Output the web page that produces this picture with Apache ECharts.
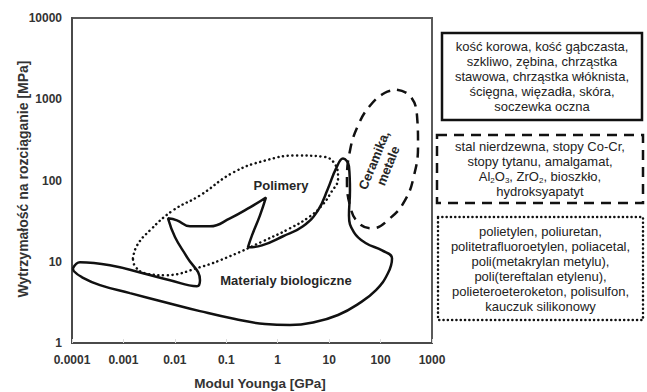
<!DOCTYPE html>
<html>
<head>
<meta charset="utf-8">
<script src="https://cdn.jsdelivr.net/npm/echarts@6/dist/echarts.min.js"></script>
<style>
  html, body { margin: 0; padding: 0; background: #fff; }
  #chart { width: 647px; height: 392px; }
</style>
</head>
<body>
<div id="chart"></div>
<script>
// Young's modulus [GPa] vs tensile strength [MPa] outlines for material groups.
const xTickLabels = ['0.0001', '0.001', '0.01', '0.1', '1', '10', '100', '1000'];
const yTickLabels = ['1', '10', '100', '1000', '10000'];

// Biological materials (solid outline)
const bioOutline = [
  [1.045e-4, 8.32], [1.43e-4, 9.86], [5.48e-4, 9.06], [2.40e-3, 7.22], [8.05e-3, 5.93],
  [0.0269, 5.00], [0.0308, 5.93], [0.0172, 11.4], [0.0101, 20.0], [7.36e-3, 34.2],
  [0.0110, 32.3], [0.0197, 27.3], [0.0482, 27.3], [0.118, 34.2], [0.289, 46.7],
  [0.591, 61.9], [0.452, 37.2], [0.316, 21.1], [0.264, 15.1], [0.494, 15.9],
  [1.27, 20.6], [3.10, 27.3], [6.07, 42.9], [9.50, 79.8], [13.6, 140],
  [18.6, 186], [24.3, 149], [25.4, 75.4], [24.3, 37.2], [30.4, 23.0],
  [52.1, 16.9], [107, 13.8], [167, 11.0], [139, 7.22], [81.5, 4.47],
  [36.4, 3.01], [14.9, 2.21], [5.31, 1.81], [1.73, 1.66], [0.566, 1.71],
  [0.148, 1.97], [0.0308, 2.47], [6.43e-3, 3.18], [1.34e-3, 4.11], [3.50e-4, 5.15],
  [1.56e-4, 6.45], [1.09e-4, 7.64], [1.045e-4, 8.32]
];

// Polymers (dotted outline)
const polymerOutline = [
  [1.53e-3, 11.0], [1.84e-3, 15.9], [3.29e-3, 24.4], [9.20e-3, 42.9], [0.0308, 65.5],
  [0.135, 125], [0.566, 176], [2.37, 203], [7.26, 197], [12.4, 166],
  [14.9, 106], [10.9, 71.2], [7.26, 49.4], [4.25, 36.2], [1.73, 25.8],
  [0.518, 17.9], [0.118, 11.7], [0.0308, 8.57], [6.43e-3, 6.83], [2.62e-3, 7.22],
  [1.68e-3, 8.81], [1.53e-3, 11.0]
];

// Ceramics and metals (dashed outline)
const ceramicOutline = [
  [208, 1309], [373, 1104], [511, 628], [535, 269], [447, 115],
  [298, 56.9], [152, 34.2], [68.1, 25.8], [36.4, 30.5], [25.4, 49.4],
  [22.2, 100], [25.4, 233], [36.4, 473], [62.2, 832], [122, 1202], [208, 1309]
];

const regionLabels = {
  polymers: 'Polimery',
  bio: 'Materialy biologiczne',
  ceramics: 'Ceramika,\nmetale'
};

const axisTitles = {
  x: 'Modul Younga [GPa]',
  y: 'Wytrzymałość na rozciąganie [MPa]'
};

const bioMaterialsText = [
  'kość korowa, kość gąbczasta,',
  'szkliwo, zębina, chrząstka',
  'stawowa, chrząstka włóknista,',
  'ścięgna, więzadła, skóra,',
  'soczewka oczna'
];
const metalsText = [
  'stal nierdzewna, stopy Co-Cr,',
  'stopy tytanu, amalgamat,',
  '{n|Al}{s|2}{n|O}{s|3}{n|, ZrO}{s|2}{n|, bioszkło,}',
  'hydroksyapatyt'
];
const polymersText = [
  'polietylen, poliuretan,',
  'politetrafluoroetylen, poliacetal,',
  'poli(metakrylan metylu),',
  'poli(tereftalan etylenu),',
  'polieteroeteroketon, polisulfon,',
  'kauczuk silikonowy'
];

const FONT = '"Liberation Sans", Arial, Helvetica, sans-serif';
const INK = '#111';
const DEG = Math.PI / 180;

function outlineSeries(data, type) {
  return {
    type: 'line',
    data: data,
    smooth: 0.45,
    showSymbol: false,
    silent: true,
    animation: false,
    lineStyle: Object.assign({ color: INK, width: 2.5 }, type)
  };
}

// zrender rotation: positive angles turn text counter-clockwise
function centeredText(x, y, text, size, color, rotation) {
  return {
    type: 'text', x: x, y: y, rotation: rotation || 0,
    style: {
      text: text, fontFamily: FONT, fontSize: size, fontWeight: 'bold', fill: color,
      lineHeight: 15,
      align: 'center', verticalAlign: 'middle', textAlign: 'center', textVerticalAlign: 'middle'
    }
  };
}

function legendBox(x, y, w, h, lines, border, rich) {
  return {
    type: 'group',
    children: [
      {
        type: 'rect',
        shape: { x: x, y: y, width: w, height: h },
        style: Object.assign({ fill: '#fff', stroke: INK, lineWidth: 2.5 }, border)
      },
      {
        type: 'text',
        x: x + w / 2,
        y: y + h / 2,
        style: {
          text: lines.join('\n'),
          fontFamily: FONT,
          fontSize: 13,
          lineHeight: 15,
          fill: '#222',
          align: 'center',
          verticalAlign: 'middle',
          textAlign: 'center',
          textVerticalAlign: 'middle',
          rich: rich || {}
        }
      }
    ]
  };
}

const chart = echarts.init(document.getElementById('chart'), null, { renderer: 'svg' });

chart.setOption({
  backgroundColor: '#fff',
  animation: false,
  grid: {
    left: 72, top: 18, right: 215, bottom: 49,
    show: true, borderColor: '#5a5a5a', borderWidth: 2, backgroundColor: 'transparent'
  },
  xAxis: {
    type: 'log', logBase: 10, min: 0.0001, max: 1000, interval: 1,
    axisLine: { lineStyle: { color: '#4a4a4a', width: 2 } },
    axisTick: { show: true, inside: true, length: 4, lineStyle: { color: '#ddd' } },
    minorTick: { show: false },
    splitLine: { show: false },
    axisLabel: {
      margin: 11, fontFamily: FONT, fontSize: 12, fontWeight: 'bold', color: '#333',
      formatter: (v, i) => xTickLabels[i]
    }
  },
  yAxis: {
    type: 'log', logBase: 10, min: 1, max: 10000, interval: 1,
    axisLine: { show: true, lineStyle: { color: '#4a4a4a', width: 2 } },
    axisTick: { show: false },
    splitLine: { show: false },
    axisLabel: {
      margin: 10, fontFamily: FONT, fontSize: 12, fontWeight: 'bold', color: '#333',
      formatter: (v, i) => yTickLabels[i]
    }
  },
  series: [
    outlineSeries(polymerOutline, { type: [0.1, 4.6], cap: 'round' }),
    outlineSeries(ceramicOutline, { type: [10, 7] }),
    outlineSeries(bioOutline, { type: 'solid' })
  ],
  graphic: [
    centeredText(281, 185, regionLabels.polymers, 13, '#262626'),
    centeredText(286, 280, regionLabels.bio, 13, '#262626'),
    centeredText(381, 163, regionLabels.ceramics, 13, '#262626', 68 * DEG),
    centeredText(260, 383, axisTitles.x, 13.5, '#333'),
    centeredText(23, 179, axisTitles.y, 14, '#333', 90 * DEG),
    legendBox(442, 33, 200, 87, bioMaterialsText, { lineDash: null }),
    legendBox(437, 135, 206, 68, metalsText, { lineDash: [10, 7] }, {
      n: { fontFamily: FONT, fontSize: 13, fill: '#222', lineHeight: 15 },
      s: { fontFamily: FONT, fontSize: 8, fill: '#222', lineHeight: 15, padding: [7, 0, 0, 0] }
    }),
    legendBox(438, 217, 205, 103, polymersText, { lineDash: [0.1, 4.2], lineCap: 'round' })
  ]
});
</script>
</body>
</html>
